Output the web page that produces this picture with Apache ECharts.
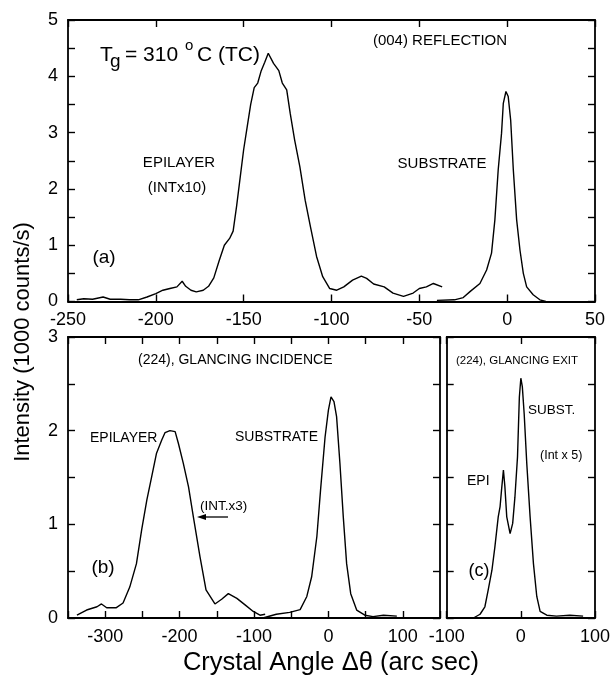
<!DOCTYPE html>
<html>
<head>
<meta charset="utf-8">
<script src="https://cdn.jsdelivr.net/npm/echarts@6/dist/echarts.min.js"></script>
<style>
html,body{margin:0;padding:0;background:#fff;}
#graph{width:613px;height:680px;}
</style>
</head>
<body>
<div id="graph"></div>
<script>
// (a) (004) reflection
var epiA_angle = [-245,-241,-236,-230,-226,-220,-215,-210,-205,-200,-196,-192,-188,-185,-183,-180,-177,-173,-170,-167,-164,-161,-158,-156,-154,-152,-150,-148,-146,-144,-142,-140,-138,-136,-133,-130,-128,-125.5,-123.5,-121,-118,-115,-112,-108.5,-105,-101,-97,-93,-88,-83,-80,-76,-70,-65,-59,-53.5,-50,-46,-42,-37];
var epiA_int = [0.03,0.05,0.04,0.08,0.04,0.04,0.03,0.03,0.08,0.14,0.2,0.23,0.26,0.36,0.27,0.2,0.17,0.2,0.27,0.42,0.72,1.0,1.12,1.25,1.7,2.2,2.7,3.1,3.5,3.8,3.88,4.1,4.25,4.41,4.23,4.1,3.88,3.76,3.34,2.87,2.39,1.8,1.33,0.8,0.44,0.23,0.2,0.26,0.38,0.45,0.41,0.31,0.26,0.15,0.09,0.15,0.23,0.26,0.32,0.26];
var subA_angle = [-40,-30,-25,-21,-15.5,-11.7,-8.9,-7,-5.1,-3.2,-2.2,-0.7,0.6,2,3.5,5.4,7.3,9.2,11.1,14.8,18.6,22];
var subA_int = [0.02,0.03,0.07,0.18,0.32,0.56,0.86,1.45,2.34,2.99,3.52,3.73,3.64,3.22,2.34,1.45,0.91,0.5,0.26,0.12,0.03,0];

// (b) (224) glancing incidence
var epiB_angle = [-338,-325,-311,-305,-298,-285,-276,-267,-258,-251,-244,-237.5,-231,-224,-219.5,-213,-206,-201.5,-195,-188,-181.5,-172.5,-164.5,-152.5,-143.5,-134.5,-123,-112,-101,-92,-85];
var epiB_int = [0.03,0.085,0.12,0.15,0.11,0.11,0.16,0.33,0.58,0.94,1.26,1.51,1.76,1.9,1.98,2.0,1.99,1.86,1.65,1.4,1.08,0.65,0.3,0.15,0.2,0.26,0.21,0.14,0.07,0.03,0.04];
var subB_angle = [-88,-70,-52,-38,-29,-22.5,-15.5,-10.5,-4.5,0,3.5,7.5,11,15.5,20,24.5,30,38,49,60,74,92];
var subB_int = [0,0.04,0.06,0.09,0.23,0.44,0.87,1.37,1.93,2.22,2.36,2.31,2.15,1.65,1.08,0.58,0.26,0.085,0.03,0.015,0.03,0.02];

// (c) (224) glancing exit
var exitC_angle = [-64,-55,-48.5,-44,-39,-35,-30.5,-28,-26,-23.5,-21.5,-19,-14.5,-11,-8,-4.5,-2,0,2,4.5,8,12.5,17,21.5,26,35,48,66,84];
var exitC_int = [0,0.04,0.12,0.3,0.51,0.76,1.08,1.19,1.37,1.58,1.4,1.08,0.9,1.01,1.29,1.72,2.36,2.56,2.47,2.18,1.65,1.08,0.58,0.23,0.07,0.03,0.02,0.03,0.02];

var FONT = '"Liberation Sans", Arial, Helvetica, sans-serif';

function zip(a, b){
    var out = [];
    for(var i=0;i<a.length;i++){ out.push([a[i], b[i]]); }
    return out;
}

function axis(grid, pos, min, max, interval, showLabel, fmt){
    return {
        type: 'value',
        gridIndex: grid,
        position: pos,
        min: min,
        max: max,
        interval: interval,
        splitLine: {show:false},
        axisLine: {show:true, onZero:false, lineStyle:{color:'#000', width:1.8}},
        axisTick: {show:true, inside:true, length:7, lineStyle:{color:'#000', width:1.4}},
        axisLabel: {
            show: showLabel,
            color: '#000',
            fontSize: 18,
            fontFamily: FONT,
            margin: 10,
            showMinLabel: true,
            showMaxLabel: true,
            formatter: fmt || function(v){ return String(v); }
        }
    };
}

var intOnly = function(v){ return Number.isInteger(v) ? String(v) : ''; };
var hundreds = function(v){ return v % 100 === 0 ? String(v) : ''; };

function line(xi, yi, data){
    return {
        type: 'line',
        xAxisIndex: xi,
        yAxisIndex: yi,
        data: data,
        showSymbol: false,
        symbol: 'none',
        silent: true,
        animation: false,
        lineStyle: {color:'#000', width:1.4}
    };
}

function txt(x, y, s, size, align){
    return {
        type: 'text',
        x: x, y: y,
        silent: true,
        style: {
            text: s,
            fill: '#000',
            font: size + 'px ' + FONT,
            textAlign: align || 'center',
            textVerticalAlign: 'middle'
        }
    };
}

var chart = echarts.init(document.getElementById('graph'));

var option = {
    backgroundColor: '#fff',
    animation: false,
    grid: [
        {left:68, top:20, width:527, height:281.5},
        {left:68, top:337, width:372, height:281},
        {left:446.7, top:337, width:148.3, height:281}
    ],
    xAxis: [
        axis(0, 'bottom', -250, 50, 50, true),
        axis(0, 'top', -250, 50, 50, false),
        axis(1, 'bottom', -350, 150, 50, true, hundreds),
        axis(1, 'top', -350, 150, 50, false),
        axis(2, 'bottom', -100, 100, 100, true),
        axis(2, 'top', -100, 100, 100, false)
    ],
    yAxis: [
        axis(0, 'left', 0, 5, 0.5, true, intOnly),
        axis(0, 'right', 0, 5, 0.5, false),
        axis(1, 'left', 0, 3, 0.5, true, intOnly),
        axis(1, 'right', 0, 3, 0.5, false),
        axis(2, 'left', 0, 3, 0.5, false),
        axis(2, 'right', 0, 3, 0.5, false)
    ],
    series: [
        line(0, 0, zip(epiA_angle, epiA_int)),
        line(0, 0, zip(subA_angle, subA_int)),
        line(2, 2, zip(epiB_angle, epiB_int)),
        line(2, 2, zip(subB_angle, subB_int)),
        line(4, 4, zip(exitC_angle, exitC_int))
    ],
    graphic: [
        // T_g = 310 oC (TC)
        txt(100, 55, 'T', 21, 'left'),
        txt(110, 62, 'g', 19, 'left'),
        txt(125, 55, '= 310', 21, 'left'),
        txt(185, 46, 'o', 15, 'left'),
        txt(197, 55, 'C (TC)', 21, 'left'),
        txt(440, 41, '(004) REFLECTION', 15),
        txt(179, 163, 'EPILAYER', 15),
        txt(177, 188, '(INTx10)', 15),
        txt(442, 164, 'SUBSTRATE', 15),
        txt(104, 258, '(a)', 19),

        txt(138, 360, '(224), GLANCING INCIDENCE', 14, 'left'),
        txt(90, 438, 'EPILAYER', 14, 'left'),
        txt(235, 437, 'SUBSTRATE', 14, 'left'),
        txt(200, 506, '(INT.x3)', 13.5, 'left'),
        {type:'line', silent:true, shape:{x1:204, y1:517, x2:228, y2:517}, style:{stroke:'#000', lineWidth:1.3}},
        {type:'polygon', silent:true, shape:{points:[[197,517],[206,514],[206,520]]}, style:{fill:'#000'}},
        txt(103, 568, '(b)', 19),

        txt(517, 361, '(224), GLANCING EXIT', 11.5),
        txt(528, 410, 'SUBST.', 13.5, 'left'),
        txt(540, 456, '(Int x 5)', 12.5, 'left'),
        txt(467, 481, 'EPI', 14, 'left'),
        txt(479, 571, '(c)', 18),

        // axis titles
        {
            type: 'text', silent: true,
            x: 23, y: 342, rotation: Math.PI/2,
            style: {text:'Intensity (1000 counts/s)', fill:'#000', font:'22px ' + FONT, textAlign:'center', textVerticalAlign:'middle'}
        },
        txt(331, 663, 'Crystal Angle \u0394\u03b8 (arc sec)', 25.5)
    ]
};

chart.setOption(option);
</script>
</body>
</html>
